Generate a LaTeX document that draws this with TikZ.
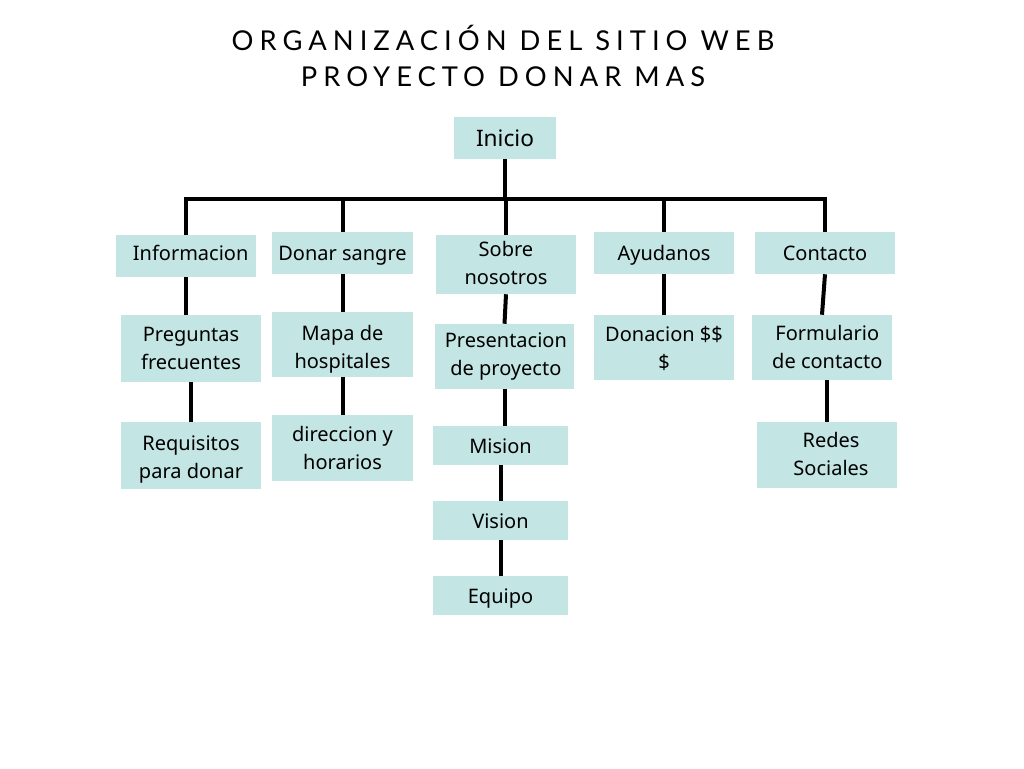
\documentclass[tikz,border=0pt]{standalone}
\usepackage{fontspec}
\setmainfont{Noto Sans}
\newfontfamily\titlefont[LetterSpace=22]{Lato}
\definecolor{boxfill}{HTML}{C3E5E3}
\begin{document}
\begin{tikzpicture}[x=0.75pt,y=-0.75pt,
  box/.style={fill=boxfill,draw=none,inner sep=0pt},
  txt/.style={inner sep=0pt,align=center,yshift=-1.75pt,
    font=\fontsize{15pt}{21pt}\selectfont,
    execute at begin node=\strut,execute at end node=\strut},
  txttwo/.style={txt,yshift=-1.25pt},
  link/.style={line width=3pt,black},
  heading/.style={anchor=base,inner sep=0pt,font=\titlefont\fontsize{20.5pt}{24pt}\selectfont}]
\useasboundingbox[fill=white] (0,0) rectangle (1024,768);

% title
\node[heading] (title1) at (503,50) {ORGANIZACIÓN DEL SITIO WEB};
\node[heading] (title2) at (503,86) {PROYECTO DONAR MAS};

% root
\node[box,minimum width=76.5pt,minimum height=31.5pt,
  label={[txt,yshift=-0.5pt,font=\fontsize{17pt}{20pt}\selectfont]center:Inicio}] (inicio) at (505,138) {};

% first level
\node[box,minimum width=105pt,minimum height=31.5pt,
  label={[txt,xshift=3.5pt,yshift=2.25pt]center:Informacion}] (info) at (186,256) {};
\node[box,minimum width=105.75pt,minimum height=31.5pt,
  label={[txt]center:Donar sangre}] (donar) at (342.5,253) {};
\node[box,minimum width=105pt,minimum height=44.25pt,
  label={[txttwo,yshift=1pt]center:{Sobre\\nosotros}}] (sobre) at (506,264.5) {};
\node[box,minimum width=105pt,minimum height=31.5pt,
  label={[txt]center:Ayudanos}] (ayuda) at (664,253) {};
\node[box,minimum width=105pt,minimum height=31.5pt,
  label={[txt]center:Contacto}] (contacto) at (825,253) {};

% second level
\node[box,minimum width=105pt,minimum height=50.25pt,
  label={[txttwo]center:{Preguntas\\frecuentes}}] (preguntas) at (191,348.5) {};
\node[box,minimum width=105.75pt,minimum height=48.75pt,
  label={[txttwo,yshift=-2pt]center:{Mapa de\\hospitales}}] (mapa) at (342.5,344.5) {};
\node[box,minimum width=104.25pt,minimum height=48.75pt,
  label={[txttwo,xshift=1pt,yshift=2pt]center:{Presentacion\\de proyecto}}] (presenta) at (504.5,356.5) {};
\node[box,minimum width=105pt,minimum height=48.75pt,
  label={[txttwo,yshift=-0.5pt]center:{Donacion \$\$\\\$}}] (donacion) at (664,347.5) {};
\node[box,minimum width=105pt,minimum height=48.75pt,
  label={[txttwo,xshift=4pt,yshift=0.5pt]center:{Formulario\\de contacto}}] (formulario) at (822,347.5) {};

% third level
\node[box,minimum width=105pt,minimum height=50.25pt,
  label={[txttwo,yshift=-1.5pt]center:{Requisitos\\para donar}}] (requisitos) at (191,455.5) {};
\node[box,minimum width=105.75pt,minimum height=49.5pt,
  label={[txttwo]center:{direccion y\\horarios}}] (direccion) at (342.5,448) {};
\node[box,minimum width=105pt,minimum height=49.5pt,
  label={[txttwo,xshift=3pt,yshift=0.5pt]center:{Redes\\Sociales}}] (redes) at (827,455) {};
\node[box,minimum width=101.25pt,minimum height=29.25pt,
  label={[txt]center:Mision}] (mision) at (500.5,445.5) {};
\node[box,minimum width=101.25pt,minimum height=29.25pt,
  label={[txt]center:Vision}] (vision) at (500.5,520.5) {};
\node[box,minimum width=101.25pt,minimum height=29.25pt,
  label={[txt]center:Equipo}] (equipo) at (500.5,595.5) {};

% bus line under the root
\coordinate (bus) at (505,199);
\draw[link] (inicio.south) -- (inicio.south |- bus);
\draw[link] (info.north) -- (info.north |- bus) -- (contacto.north |- bus) -- (contacto.north);
\draw[link] (donar.north) -- (donar.north |- bus);
\draw[link] (sobre.north) -- (sobre.north |- bus);
\draw[link] (ayuda.north) -- (ayuda.north |- bus);

% branches
\draw[link] (info.south) -- (info.south |- preguntas.north);
\draw[link] (preguntas.south) -- (requisitos.north);
\draw[link] (donar.south) -- (mapa.north);
\draw[link] (mapa.south) -- (direccion.north);
\draw[link] (sobre.south) -- (presenta.north);
\draw[link] (presenta.south) -- (presenta.south |- mision.north);
\draw[link] (mision.south) -- (vision.north);
\draw[link] (vision.south) -- (equipo.north);
\draw[link] (ayuda.south) -- (ayuda.south |- donacion.north);
\draw[link] (contacto.south) -- (formulario.north);
\draw[link] (redes.north |- formulario.south) -- (redes.north);
\end{tikzpicture}
\end{document}
